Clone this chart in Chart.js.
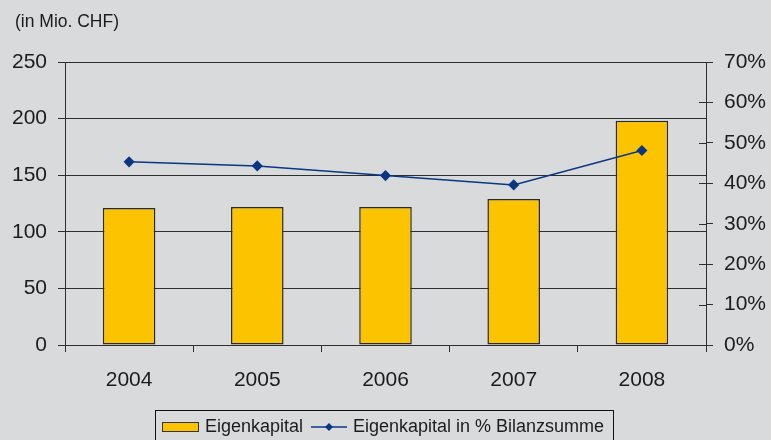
<!DOCTYPE html>
<html>
<head>
<meta charset="utf-8">
<script src="https://cdn.jsdelivr.net/npm/chart.js"></script>
<style>
  html, body { margin: 0; padding: 0; background: #d9dadc; }
  .chart-parent { position: relative; width: 771px; height: 440px; }
</style>
</head>
<body>
<div class="chart-parent">
  <canvas id="myChart" width="771" height="440"></canvas>
</div>
<script>
const years = ["2004", "2005", "2006", "2007", "2008"];
const eigenkapital = [121, 122, 122, 129, 198];          // Mio. CHF
const eigenkapitalPct = [45.3, 44.3, 41.9, 39.6, 48.1];  // % Bilanzsumme
const leftTicks = [0, 50, 100, 150, 200, 250];
const rightTicks = [0, 10, 20, 30, 40, 50, 60, 70];

const FONT = "'Liberation Sans', Arial, sans-serif";
const INK = "#1c1c1c";
const GRID = "#2e2e2e";
const BAR = "#fcc400";
const LINE = "#0b3782";

// title text top-left + crossing ticks on right axis + legend box
const extras = {
  id: "extras",
  afterDraw(chart) {
    const c = chart.ctx;
    c.save();
    c.fillStyle = INK;
    c.font = "17.5px " + FONT;
    c.textBaseline = "middle";
    c.fillText("(in Mio. CHF)", 15, 22);

    // inner half of the right axis ticks
    const y1 = chart.scales.y1;
    c.strokeStyle = GRID;
    c.lineWidth = 1;
    rightTicks.forEach(v => {
      const y = Math.round(y1.getPixelForValue(v)) + 0.5;
      c.beginPath();
      c.moveTo(y1.left - 7, y);
      c.lineTo(y1.left, y);
      c.stroke();
    });

    // legend
    const ds = chart.data.datasets;
    c.strokeStyle = "#111";
    c.strokeRect(155.5, 410.5, 458, 40);
    c.fillStyle = ds[0].backgroundColor;
    c.fillRect(162.5, 422.5, 36, 9);
    c.strokeStyle = "#333";
    c.strokeRect(162.5, 422.5, 36, 9);
    c.fillStyle = INK;
    c.font = "18px " + FONT;
    c.fillText(ds[0].label, 205, 427.5);

    c.strokeStyle = ds[1].borderColor;
    c.lineWidth = 1.5;
    c.beginPath();
    c.moveTo(311, 427);
    c.lineTo(347, 427);
    c.stroke();
    c.fillStyle = ds[1].borderColor;
    c.beginPath();
    c.moveTo(329, 423);
    c.lineTo(333, 427);
    c.lineTo(329, 431);
    c.lineTo(325, 427);
    c.closePath();
    c.fill();
    c.fillStyle = INK;
    c.fillText(ds[1].label, 353, 427.5);
    c.restore();
  }
};

new Chart(document.getElementById("myChart"), {
  data: {
    labels: years,
    datasets: [
      {
        type: "bar",
        label: "Eigenkapital",
        data: eigenkapital,
        backgroundColor: BAR,
        borderColor: "#2a2a2a",
        borderWidth: 1.5,
        borderSkipped: false,
        categoryPercentage: 1,
        barPercentage: 0.41,
        yAxisID: "y",
        order: 2
      },
      {
        type: "line",
        label: "Eigenkapital in % Bilanzsumme",
        data: eigenkapitalPct,
        borderColor: LINE,
        backgroundColor: LINE,
        borderWidth: 1.5,
        pointStyle: "rectRot",
        pointRadius: 4.5,
        pointHoverRadius: 4.5,
        tension: 0,
        yAxisID: "y1",
        order: 1
      }
    ]
  },
  options: {
    responsive: false,
    animation: false,
    events: [],
    layout: { padding: { top: 62, left: 0, right: 0, bottom: 0 } },
    plugins: { legend: { display: false }, tooltip: { enabled: false } },
    scales: {
      x: {
        offset: true,
        grid: { offset: true, drawOnChartArea: false, drawTicks: true, tickLength: 7, color: GRID },
        border: { color: GRID },
        ticks: { color: INK, font: { family: FONT, size: 21 }, padding: 16 },
        afterFit: s => { s.height = 95; }
      },
      y: {
        position: "left",
        min: 0, max: 250,
        afterBuildTicks: s => { s.ticks = leftTicks.map(v => ({ value: v })); },
        grid: { color: GRID, lineWidth: 1, tickLength: 7 },
        border: { color: GRID },
        ticks: { color: INK, font: { family: FONT, size: 21 }, padding: 11 },
        afterFit: s => { s.width = 65; }
      },
      y1: {
        position: "right",
        min: 0, max: 70,
        afterBuildTicks: s => { s.ticks = rightTicks.map(v => ({ value: v })); },
        grid: { drawOnChartArea: false, color: GRID, tickLength: 7 },
        border: { color: GRID },
        ticks: { color: INK, font: { family: FONT, size: 21 }, padding: 11, callback: v => v + "%" },
        afterFit: s => { s.width = 65; }
      }
    }
  },
  plugins: [extras]
});
</script>
</body>
</html>
